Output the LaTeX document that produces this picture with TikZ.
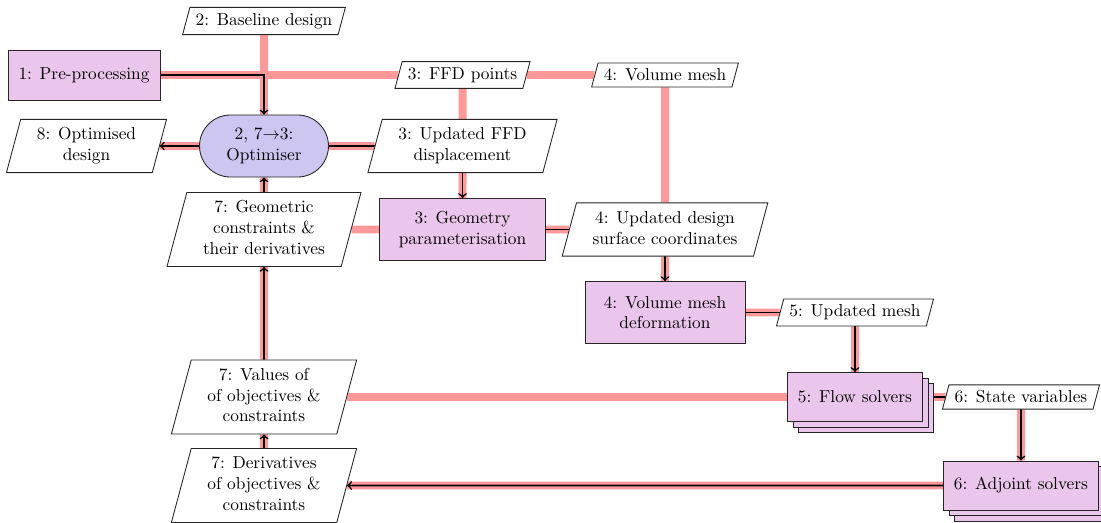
\documentclass[tikz,border=0pt]{standalone}
\usetikzlibrary{shapes.geometric,shapes.misc,shadows}
\definecolor{funcfill}{HTML}{EBC6EC}
\definecolor{optfill}{HTML}{CCC6F0}
\definecolor{datacol}{HTML}{FF9999}
\newcommand{\cellstack}[1]{\begin{tabular}{c}#1\end{tabular}}
\pgfdeclarelayer{links}
\pgfsetlayers{links,main}
\begin{document}
\begin{tikzpicture}[x=0.577pt, y=-0.577pt,
  datanode/.style={draw=black!85, line width=0.5pt, fill=white, trapezium,
    trapezium left angle=75, trapezium right angle=105, inner sep=3.33pt, align=center},
  funcnode/.style={draw=black!85, line width=0.5pt, fill=funcfill, rectangle,
    inner sep=0pt, align=center},
  optnode/.style={draw=black!85, line width=0.5pt, fill=optfill, rounded rectangle,
    inner sep=0pt, align=center},
  stacknode/.style={funcnode, double copy shadow={shadow xshift=3.2pt, shadow yshift=-3.2pt}},
  datalink/.style={draw=datacol, line width=4.6pt},
  proclink/.style={draw=black, line width=0.9pt, ->}]
\useasboundingbox (0,0) rectangle (1101,523);

% diagonal: processing blocks
\node[funcnode, minimum width=87.7pt, minimum height=28.9pt] (pre) at (84,75) {1: Pre-processing};
\node[optnode, minimum width=74.4pt, minimum height=35.8pt] (opt) at (264,146) {2, 7$\rightarrow$3:\\Optimiser};
\node[funcnode, minimum width=95.8pt, minimum height=35.8pt] (geo) at (462.5,229.5) {3: Geometry\\parameterisation};
\node[funcnode, minimum width=92.3pt, minimum height=35.8pt] (vmd) at (665,312.5) {4: Volume mesh\\deformation};
\node[stacknode, minimum width=77.9pt, minimum height=28.3pt] (flow) at (855,397) {5: Flow solvers};
\node[stacknode, minimum width=89.4pt, minimum height=28.3pt] (adj) at (1021,485.5) {6: Adjoint solvers};

% off-diagonal: data
\node[datanode] (base) at (264,21) {2: Baseline design};
\node[datanode] (ffd) at (462.5,75) {3: FFD points};
\node[datanode] (vmesh) at (665,75) {4: Volume mesh};
\node[datanode] (optd) at (86.5,146) {\cellstack{8: Optimised\\design}};
\node[datanode] (uffd) at (462.5,146) {\cellstack{3: Updated FFD\\displacement}};
\node[datanode] (geoc) at (264,229.5) {\cellstack{7: Geometric\\constraints \&\\their derivatives}};
\node[datanode] (usurf) at (665,229.5) {\cellstack{4: Updated design\\surface coordinates}};
\node[datanode] (umesh) at (855,312.5) {5: Updated mesh};
\node[datanode] (vals) at (264,397) {\cellstack{7: Values of\\of objectives \&\\constraints}};
\node[datanode] (state) at (1021,397) {6: State variables};
\node[datanode] (der) at (264,485.5) {\cellstack{7: Derivatives\\of objectives \&\\constraints}};

\begin{pgfonlayer}{links}
  % data connections
  \draw[datalink] (pre) -- (ffd);
  \draw[datalink] (ffd) -- (vmesh);
  \draw[datalink] (base) -- (opt);
  \draw[datalink] (opt) -- (geoc);
  \draw[datalink] (geoc) -- (vals);
  \draw[datalink] (vals) -- (der);
  \draw[datalink] (optd) -- (opt);
  \draw[datalink] (opt) -- (uffd);
  \draw[datalink] (ffd) -- (uffd);
  \draw[datalink] (uffd) -- (geo);
  \draw[datalink] (geoc) -- (geo);
  \draw[datalink] (geo) -- (usurf);
  \draw[datalink] (vmesh) -- (usurf);
  \draw[datalink] (usurf) -- (vmd);
  \draw[datalink] (vmd) -- (umesh);
  \draw[datalink] (umesh) -- (flow);
  \draw[datalink] (vals) -- (flow);
  \draw[datalink] (flow) -- (state);
  \draw[datalink] (state) -- (adj);
  \draw[datalink] (der) -- (adj);
  % process flow
  \draw[proclink] (pre) -| (opt);
  \draw[proclink] (opt) -- (optd);
  \draw[proclink] (opt) -| (geo);
  \draw[proclink] (geo) -| (vmd);
  \draw[proclink] (vmd) -| (flow);
  \draw[proclink] (flow) -| (adj);
  \draw[proclink] (adj) -- (der);
  \draw[proclink] (der) -- (vals);
  \draw[proclink] (vals) -- (geoc);
  \draw[proclink] (geoc) -- (opt);
\end{pgfonlayer}
\end{tikzpicture}
\end{document}
